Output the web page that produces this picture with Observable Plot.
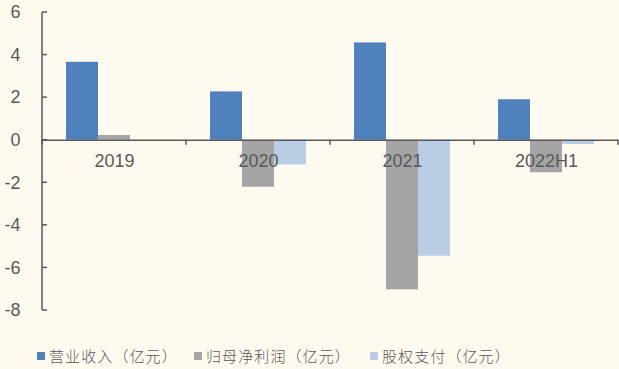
<!DOCTYPE html>
<html lang="zh-CN"><head><meta charset="utf-8">
<script src="https://cdn.jsdelivr.net/npm/d3@7"></script>
<script src="https://cdn.jsdelivr.net/npm/@observablehq/plot@0.6"></script>
<style>
body{margin:0;background:#FFFAF0;width:619px;height:369px;overflow:hidden}
#chart svg{display:block}
#legend{display:flex;padding:13px 0 0 37px;font-family:"Noto Sans CJK SC",sans-serif;font-weight:300;font-size:15px;line-height:15px;letter-spacing:1.1px;color:#595959;}
.item{display:flex;align-items:center;white-space:nowrap}
.sw{width:8px;height:8px;margin-right:4px;flex:none}
</style></head><body>
<div id="chart"></div><div id="legend"></div>
<script>
const categories = ["2019", "2020", "2021", "2022H1"];
const seriesNames = ["营业收入（亿元）", "归母净利润（亿元）", "股权支付（亿元）"];
const revenue = [3.66, 2.27, 4.57, 1.90];
const netProfit = [0.22, -2.21, -7.03, -1.53];
const equityPay = [0, -1.16, -5.45, -0.20];
const yTicks = [-8, -6, -4, -2, 0, 2, 4, 6];
const colors = ["#4F81BD", "#A5A5A5", "#B9CDE5"];

const seriesValues = [revenue, netProfit, equityPay];
const rows = categories.flatMap((year, i) =>
  seriesNames.map((series, s) => ({year, series, value: seriesValues[s][i]})));

const axisColor = "#595959";
const chart = Plot.plot({
  width: 619, height: 335,
  marginLeft: 41, marginRight: 1, marginTop: 12, marginBottom: 25,
  style: {background: "transparent", fontFamily: "'Liberation Sans', Arial, sans-serif", fontSize: "18px", color: axisColor},
  fx: {domain: categories, padding: 0, axis: null},
  x: {domain: seriesNames, padding: 0, insetLeft: 24, insetRight: 24, axis: null},
  y: {domain: [yTicks[0], yTicks[yTicks.length - 1]]},
  color: {domain: seriesNames, range: colors},
  marks: [
    Plot.barY(rows, {fx: "year", x: "series", y: "value", fill: "series"}),
    Plot.ruleY([0], {stroke: axisColor, strokeWidth: 1.5}),
    Plot.text(categories, {fx: d => d, y: () => 0, text: d => d, dy: 21, fill: axisColor, fontSize: 18}),
    Plot.axisY(yTicks, {tickSize: 0, tickPadding: 22, tickFormat: d => String(d), fontSize: 18, fill: axisColor, label: null})
  ]
});
document.getElementById("chart").appendChild(chart);

// axis line and tick marks, positioned with the plot's own scales
const svg = d3.select(chart);
const fx = chart.scale("fx"), y = chart.scale("y");
const g = svg.append("g").attr("stroke", axisColor).attr("stroke-width", 1.5).attr("fill", "none");
const x0 = fx.apply(categories[0]);
g.append("line").attr("x1", x0).attr("x2", x0)
  .attr("y1", y.apply(yTicks[0])).attr("y2", y.apply(yTicks[yTicks.length - 1]));
yTicks.forEach(t => g.append("line").attr("x1", x0).attr("x2", x0 + 5).attr("y1", y.apply(t)).attr("y2", y.apply(t)));
const bounds = categories.map(c => fx.apply(c)).concat([fx.apply(categories[categories.length - 1]) + fx.bandwidth]);
bounds.forEach(b => g.append("line").attr("x1", b).attr("x2", b).attr("y1", y.apply(0)).attr("y2", y.apply(0) + 5));

// legend
const legend = d3.select("#legend");
const itemStarts = [37, 194, 370];
seriesNames.forEach((name, i) => {
  const item = legend.append("div").attr("class", "item");
  item.append("div").attr("class", "sw").style("background", colors[i]);
  item.append("span").text(name);
});
const items = legend.selectAll(".item").nodes();
let acc = 37;
items.forEach((el, i) => {
  if (i > 0) el.style.marginLeft = (itemStarts[i] - acc) + "px";
  acc = itemStarts[i] + el.getBoundingClientRect().width;
});
</script>
</body></html>
